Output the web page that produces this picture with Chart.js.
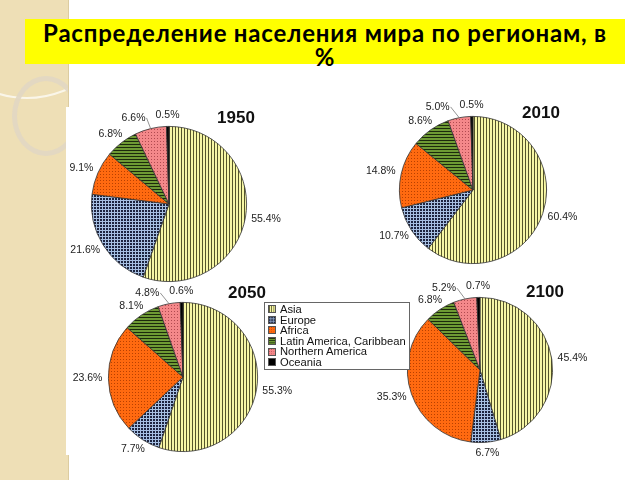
<!DOCTYPE html>
<html>
<head>
<meta charset="utf-8">
<script src="https://cdn.jsdelivr.net/npm/chart.js@4"></script>
<style>
  body { margin: 0; width: 640px; height: 480px; overflow: hidden; background: #fff; position: relative; font-family: "Liberation Sans", Arial, sans-serif; }
  .strip { position: absolute; left: 0; top: 0; width: 68px; height: 480px; background: #eedfb6; border-right: 1px solid #dccca0; overflow: hidden; }
  .ring { position: absolute; border-radius: 50%; }
  .photo { position: absolute; left: 66px; top: 107px; width: 540px; height: 348px; background: #fff; }
  .title { position: absolute; left: 25px; top: 19px; width: 600px; height: 45px; background: #ffff00; text-align: center;
           font-family: Lato, "Open Sans", sans-serif; font-weight: 700; font-size: 24px; letter-spacing: 0.8px; line-height: 24px; color: #000; }
  .title span { position: relative; top: 2px; }
  .year { position: absolute; font: bold 17px "Liberation Sans", Arial, sans-serif; color: #111; transform: translate(-50%, -50%); }
  canvas { position: absolute; }
  .legend { position: absolute; left: 264px; top: 302px; width: 144px; height: 66px; border: 1px solid #666; background: #fff;
            font: 11.2px "Liberation Sans", Arial, sans-serif; color: #111; }
  .legend div { height: 10.6px; line-height: 10.6px; white-space: nowrap; display: flex; align-items: center; margin-left: 3px; }
  .legend div:first-child { margin-top: 1px; }
  .legend canvas { position: static; width: 8px; height: 8px; margin-right: 4px; border: 0.5px solid #555; box-sizing: border-box; }
</style>
</head>
<body>
<div class="strip">
  <div class="ring" style="left:-70px;top:-95px;width:190px;height:190px;border:2px solid rgba(255,255,255,0.7);"></div>
  <div class="ring" style="left:12px;top:76px;width:58px;height:70px;border:5px solid rgba(225,215,195,0.9);"></div>
</div>
<div class="photo"></div>
<div class="title"><span>Распределение населения мира по регионам, в<br>%</span></div>

<canvas id="c1950"></canvas>
<canvas id="c2010"></canvas>
<canvas id="c2050"></canvas>
<canvas id="c2100"></canvas>

<div class="year" style="left:236px;top:118px;">1950</div>
<div class="year" style="left:541px;top:113px;">2010</div>
<div class="year" style="left:247px;top:293px;">2050</div>
<div class="year" style="left:545px;top:292px;">2100</div>

<div class="legend" id="legend"></div>

<script>
// данные
const regions = ['Asia', 'Europe', 'Africa', 'Latin America, Caribbean', 'Northern America', 'Oceania'];
const years = ['1950', '2010', '2050', '2100'];
const share1950 = [55.4, 21.6, 9.1, 6.8, 6.6, 0.5];
const share2010 = [60.4, 10.7, 14.8, 8.6, 5.0, 0.5];
const share2050 = [55.3, 7.7, 23.6, 8.1, 4.8, 0.6];
const share2100 = [45.4, 6.7, 35.3, 6.8, 5.2, 0.7];

// узоры заливки
function pattern(bg, fg, kind) {
    const t = document.createElement('canvas');
    t.width = 3;
    t.height = 3;
    const c = t.getContext('2d');
    c.fillStyle = bg;
    c.fillRect(0, 0, 3, 3);
    c.fillStyle = fg;
    if (kind === 'v') c.fillRect(0, 0, 1, 3);
    if (kind === 'h') c.fillRect(0, 0, 3, 1);
    if (kind === 'check') c.fillRect(0, 0, 2, 2);
    if (kind === 'dots') c.fillRect(0, 0, 1, 1);
    return c.createPattern(t, 'repeat');
}

const fills = [
    pattern('#f7f7a6', '#55552a', 'v'),
    pattern('#a6bfe2', '#1c2440', 'check'),
    pattern('#ff6a10', '#b84000', 'dots'),
    pattern('#6e9a34', '#1c2a0c', 'h'),
    pattern('#f4888a', '#b04a50', 'dots'),
    '#000000'
];

// подписи процентов
const outsideLabels = {
    id: 'outsideLabels',
    afterDatasetsDraw(chart) {
        const ctx = chart.ctx;
        const meta = chart.getDatasetMeta(0);
        const values = chart.data.datasets[0].data;
        ctx.save();
        ctx.font = '10.5px "Liberation Sans", Arial, sans-serif';
        ctx.fillStyle = '#222';
        ctx.textAlign = 'center';
        ctx.textBaseline = 'middle';
        const placed = [];
        for (let i = meta.data.length - 1; i >= 0; i--) {
            const arc = meta.data[i];
            const mid = (arc.startAngle + arc.endAngle) / 2;
            const r = arc.outerRadius;
            const txt = values[i].toFixed(1) + '%';
            const w = ctx.measureText(txt).width;
            const h = 10;
            const ax = arc.x + Math.cos(mid) * (r + 6);
            const ay = arc.y + Math.sin(mid) * (r + 6);
            let x = ax + Math.cos(mid) * w / 2;
            let y = ay + Math.sin(mid) * h / 2;
            let moved = false;
            for (const p of placed) {
                if (Math.abs(y - p.y) < h && Math.abs(x - p.x) < (w + p.w) / 2 + 4) {
                    x = x < p.x ? p.x - (w + p.w) / 2 - 10 : p.x + (w + p.w) / 2 + 10;
                    moved = true;
                }
            }
            if (moved) {
                ctx.strokeStyle = '#777';
                ctx.lineWidth = 0.8;
                ctx.beginPath();
                ctx.moveTo(arc.x + Math.cos(mid) * r, arc.y + Math.sin(mid) * r);
                ctx.lineTo(x + (x < arc.x ? w / 2 + 1 : -w / 2 - 1), y);
                ctx.stroke();
            }
            ctx.fillText(txt, x, y);
            placed.push({ x, y, w });
        }
        ctx.restore();
    }
};

function makePie(id, values, cx, cy, r) {
    const pad = 45;
    const el = document.getElementById(id);
    el.width = 2 * (r + pad);
    el.height = 2 * (r + pad);
    el.style.left = (cx - r - pad) + 'px';
    el.style.top = (cy - r - pad) + 'px';
    new Chart(el, {
        type: 'pie',
        data: {
            labels: regions,
            datasets: [{
                data: values,
                backgroundColor: fills,
                borderColor: '#333',
                borderWidth: 0.8,
                hoverOffset: 0
            }]
        },
        options: {
            responsive: false,
            animation: false,
            events: [],
            layout: { padding: pad },
            plugins: { legend: { display: false }, tooltip: { enabled: false } }
        },
        plugins: [outsideLabels]
    });
}

makePie('c1950', share1950, 169, 204, 78);
makePie('c2010', share2010, 473, 190, 74);
makePie('c2050', share2050, 183, 377, 75);
makePie('c2100', share2100, 480, 370, 73);

// легенда
const legend = document.getElementById('legend');
regions.forEach((name, i) => {
    const row = document.createElement('div');
    const sw = document.createElement('canvas');
    sw.width = 8; sw.height = 8;
    const c = sw.getContext('2d');
    c.fillStyle = fills[i];
    c.fillRect(0, 0, 8, 8);
    row.appendChild(sw);
    row.appendChild(document.createTextNode(name));
    legend.appendChild(row);
});
</script>
</body>
</html>
